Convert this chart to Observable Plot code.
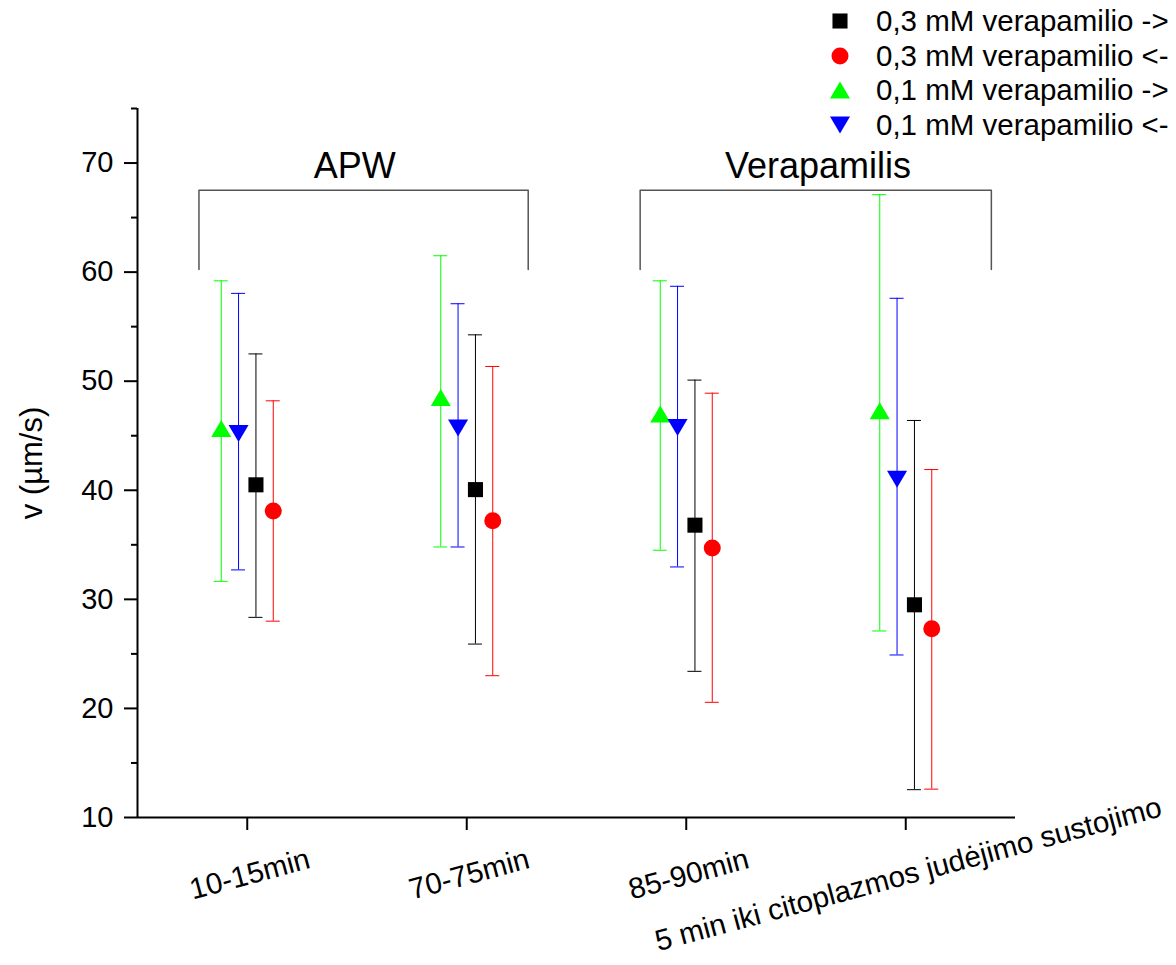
<!DOCTYPE html>
<html>
<head>
<meta charset="utf-8">
<script src="https://cdn.jsdelivr.net/npm/d3@7"></script>
<script src="https://cdn.jsdelivr.net/npm/@observablehq/plot@0.6"></script>
<style>
  html, body { margin: 0; padding: 0; background: #fff; }
  #wrap { position: relative; width: 1176px; height: 965px; font-family: "Liberation Sans", Arial, sans-serif; }
  #legend { position: absolute; left: 0; top: 0; }
  .lrow { position: absolute; display: flex; align-items: center; height: 34px; font-size: 29.5px; color: #000; white-space: nowrap; }
</style>
</head>
<body>
<div id="wrap"><div id="chart"></div><div id="legend"></div></div>
<script>
// ---- data ----
const categories = ["10-15min", "70-75min", "85-90min", "5 min iki citoplazmos judėjimo sustojimo"];

const seriesNames = ["0,3 mM verapamilio ->", "0,3 mM verapamilio <-", "0,1 mM verapamilio ->", "0,1 mM verapamilio <-"];
const seriesColors = ["#000000", "#ff0000", "#00ff00", "#0000ff"];

const black_mean = [40.5, 40.06, 36.8, 29.5];
const black_low  = [28.35, 25.9, 23.4, 12.55];
const black_high = [52.5, 54.25, 50.1, 46.4];

const red_mean = [38.1, 37.2, 34.7, 27.3];
const red_low  = [28.0, 23.0, 20.56, 12.6];
const red_high = [48.2, 51.35, 48.9, 41.9];

const green_mean = [45.66, 48.5, 47.0, 47.3];
const green_low  = [31.65, 34.8, 34.5, 27.1];
const green_high = [59.2, 61.5, 59.2, 67.1];

const blue_mean = [45.2, 45.7, 45.75, 41.0];
const blue_low  = [32.7, 34.8, 32.97, 24.9];
const blue_high = [58.05, 57.1, 58.7, 57.6];

const yTicks = [10, 20, 30, 40, 50, 60, 70];
const yMinorTicks = [15, 25, 35, 45, 55, 65, 75];

// group brackets (x in category-index units, y in data units)
const bracketLabels = ["APW", "Verapamilis"];
const bracketStart = [0.78, 2.79];
const bracketEnd = [2.28, 4.39];
const bracketLabelX = [1.49, 3.6];
const bracketTop = 67.5;
const bracketBottom = 60.25;
const bracketLabelY = 69.65;

// ---- build tables ----
const FONT = "Liberation Sans, Arial, sans-serif";
const offsets = [8.7, 26, -26, -8.7]; // px offsets of series within a category

const upTri = { draw(ctx, size) { const r = Math.sqrt(size / Math.PI); const w = r * 1.18; ctx.moveTo(0, -r); ctx.lineTo(w, r); ctx.lineTo(-w, r); ctx.closePath(); } };
const downTri = { draw(ctx, size) { const r = Math.sqrt(size / Math.PI); const w = r * 1.18; ctx.moveTo(0, r); ctx.lineTo(w, -r); ctx.lineTo(-w, -r); ctx.closePath(); } };
const symbols = ["square", "circle", upTri, downTri];
const d3symbols = [d3.symbolSquare, d3.symbolCircle, upTri, downTri];

const allSeries = [
  [black_mean, black_low, black_high],
  [red_mean, red_low, red_high],
  [green_mean, green_low, green_high],
  [blue_mean, blue_low, blue_high]
];

const seriesRows = allSeries.map(([m, lo, hi]) => categories.map((c, i) => ({ x: i + 1, mean: m[i], lo: lo[i], hi: hi[i] })));

const bracketPath = [];
bracketLabels.forEach((b, i) => {
  bracketPath.push({ b, x: bracketStart[i], y: bracketBottom });
  bracketPath.push({ b, x: bracketStart[i], y: bracketTop });
  bracketPath.push({ b, x: bracketEnd[i], y: bracketTop });
  bracketPath.push({ b, x: bracketEnd[i], y: bracketBottom });
});

const marks = [];
// brackets
marks.push(Plot.line(bracketPath, { x: "x", y: "y", z: "b", stroke: "#555", strokeWidth: 1.5 }));
marks.push(Plot.text(bracketLabels, { x: (d, i) => bracketLabelX[i], y: () => bracketLabelY, text: d => d, fontSize: 36, fill: "#000", lineAnchor: "middle" }));

// series
seriesRows.forEach((rows, s) => {
  const col = seriesColors[s];
  const dx = offsets[s];
  marks.push(Plot.ruleX(rows, { x: "x", y1: "lo", y2: "hi", stroke: col, strokeWidth: 1, dx }));
  marks.push(Plot.ruleY(rows, { y: "hi", x1: "x", x2: "x", insetLeft: -7, insetRight: -7, stroke: col, strokeWidth: 1, dx }));
  marks.push(Plot.ruleY(rows, { y: "lo", x1: "x", x2: "x", insetLeft: -7, insetRight: -7, stroke: col, strokeWidth: 1, dx }));
  marks.push(Plot.dot(rows, { x: "x", y: "mean", symbol: symbols[s], r: 8.5, fill: col, stroke: "none", dx }));
});

// axes
marks.push(Plot.axisY({ ticks: yTicks, tickSize: 13, tickPadding: 11, strokeWidth: 2, fontSize: 29, label: null, fill: "#000" }));
marks.push(Plot.axisY({ ticks: yMinorTicks, tickSize: 6, strokeWidth: 2, tickFormat: () => "", label: null }));
marks.push(Plot.axisX({ ticks: [1, 2, 3, 4], tickSize: 13, strokeWidth: 2, tickFormat: () => "", label: null }));
marks.push(Plot.ruleY([10], { stroke: "#000", strokeWidth: 2 }));
marks.push(Plot.ruleX([0.5], { stroke: "#000", strokeWidth: 2 }));
// category labels
marks.push(Plot.text(categories, { x: (d, i) => i + 1, frameAnchor: "bottom", text: d => d, dy: 66, dx: 5, rotate: -15, fontSize: 29.5, fill: "#000", textAnchor: "middle" }));
// y label
marks.push(Plot.text(["v (µm/s)"], { frameAnchor: "left", textAnchor: "middle", lineAnchor: "middle", text: d => d, dx: -105, rotate: -90, fontSize: 31, fill: "#000" }));

const chart = Plot.plot({
  width: 1176,
  height: 965,
  marginLeft: 137,
  marginRight: 161,
  marginTop: 108,
  marginBottom: 148,
  x: { type: "linear", domain: [0.5, 4.5], axis: null },
  y: { type: "linear", domain: [10, 75], axis: null },
  style: { fontFamily: FONT, fontSize: "28px", color: "#000", background: "#fff", overflow: "visible" },
  marks
});
document.getElementById("chart").appendChild(chart);

// ---- legend ----
const legend = document.getElementById("legend");
seriesNames.forEach((name, i) => {
  const row = document.createElement("div");
  row.className = "lrow";
  const cy = 21 + i * 34.5;
  row.style.top = (cy - 17) + "px";
  row.style.left = "822px";
  const svg = d3.create("svg").attr("width", 36).attr("height", 34);
  svg.append("path")
    .attr("transform", "translate(18,17)")
    .attr("d", d3.symbol(d3symbols[i], Math.PI * 8.5 * 8.5)())
    .attr("fill", seriesColors[i]);
  row.appendChild(svg.node());
  const span = document.createElement("span");
  span.textContent = name;
  span.style.marginLeft = "18px";
  row.appendChild(span);
  legend.appendChild(row);
});
</script>
</body>
</html>
